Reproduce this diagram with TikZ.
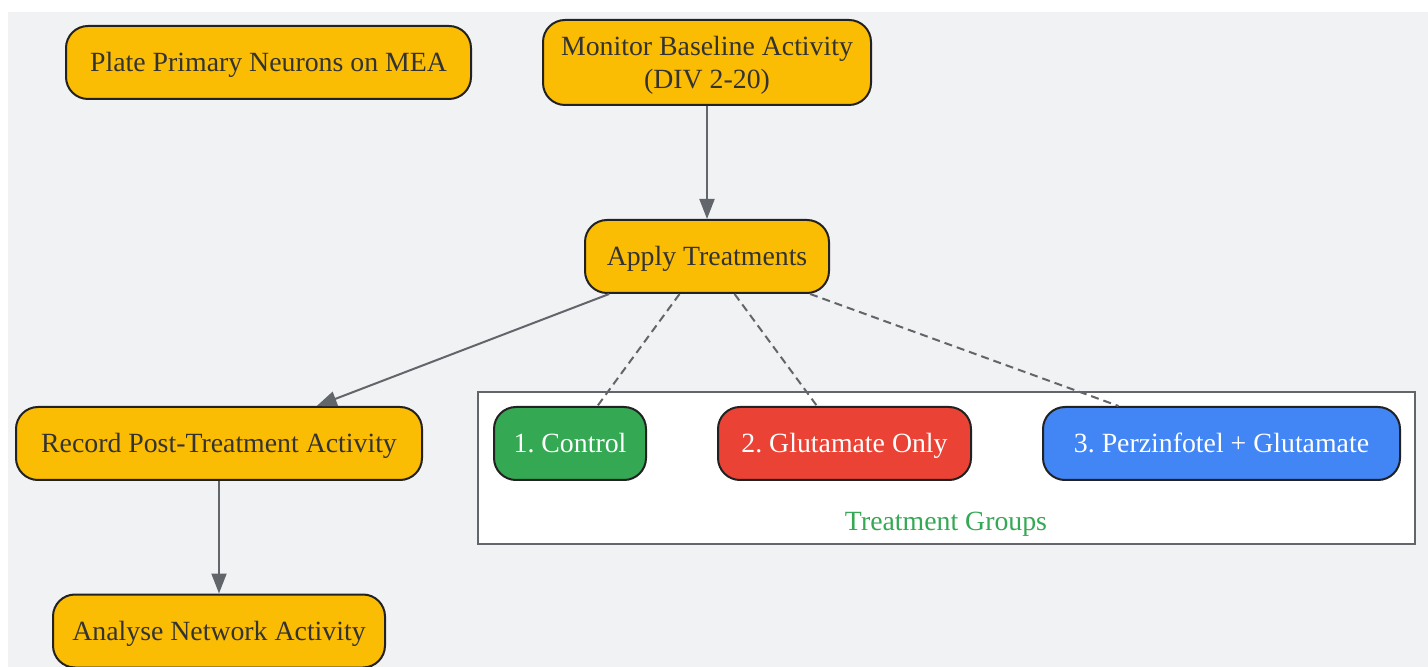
\documentclass[tikz,border=0pt]{standalone}
\usepackage{fontspec}
\setmainfont{Liberation Serif}
\usetikzlibrary{arrows.meta}
\definecolor{bggray}{HTML}{F1F2F4}
\definecolor{stepyellow}{HTML}{FBBC04}
\definecolor{steptext}{HTML}{333333}
\definecolor{boxline}{HTML}{222222}
\definecolor{edgegray}{HTML}{62656A}
\definecolor{ctrlgreen}{HTML}{34A853}
\definecolor{glured}{HTML}{EA4335}
\definecolor{perzblue}{HTML}{4285F4}
\frenchspacing
\begin{document}
\begin{tikzpicture}[x=0.5pt,y=-0.5pt,
  every node/.style={font=\fontsize{13.9}{16.5}\selectfont,text height=12.4pt,text depth=3.05pt},
  stepbox/.style={draw=boxline,line width=1pt,rounded corners=11pt,fill=stepyellow,text=steptext,minimum height=36.5pt,inner sep=0pt,align=center},
  groupbox/.style={stepbox,text=white},
  flow/.style={draw=edgegray,line width=1pt,-{Triangle[length=10pt,width=7.5pt]}},
  link/.style={draw=edgegray,line width=1pt,dash pattern=on 4pt off 2.5pt}]%
\useasboundingbox (0,0) rectangle (1428,667);
\fill[bggray] (8,12) rectangle (1428,667);
% treatment group frame
\draw[fill=white,draw=edgegray,line width=1pt] (478,392) rectangle (1415,544);
\node[text=ctrlgreen] (grouplabel) at (946,521) {Treatment Groups};
% steps
\node[stepbox,minimum width=202.5pt] (plate) at (268.5,62.5) {Plate Primary Neurons on MEA};
\node[stepbox,minimum width=164pt,minimum height=42.5pt,text height=28.9pt] (baseline) at (707,62.5) {Monitor Baseline Activity\\(DIV 2-20)};
\node[stepbox,minimum width=122pt] (apply) at (707,256.5) {Apply Treatments};
\node[stepbox,minimum width=203pt] (record) at (219,443.5) {Record Post-Treatment Activity};
\node[stepbox,minimum width=166pt] (analyse) at (219,631) {Analyse Network Activity};
% groups
\node[groupbox,fill=ctrlgreen,minimum width=76pt] (control) at (570,443.5) {1. Control};
\node[groupbox,fill=glured,minimum width=126.5pt] (glutamate) at (844.5,443.5) {2. Glutamate Only};
\node[groupbox,fill=perzblue,minimum width=178.5pt] (perzinfotel) at (1221.5,443.5) {3. Perzinfotel + Glutamate};
% arrows
\draw[flow] (baseline) -- (apply);
\draw[flow] (apply) -- (record);
\draw[flow] (record) -- (analyse);
\draw[link] (apply) -- (control);
\draw[link] (apply) -- (glutamate);
\draw[link] (apply) -- (perzinfotel);
\end{tikzpicture}
\end{document}
